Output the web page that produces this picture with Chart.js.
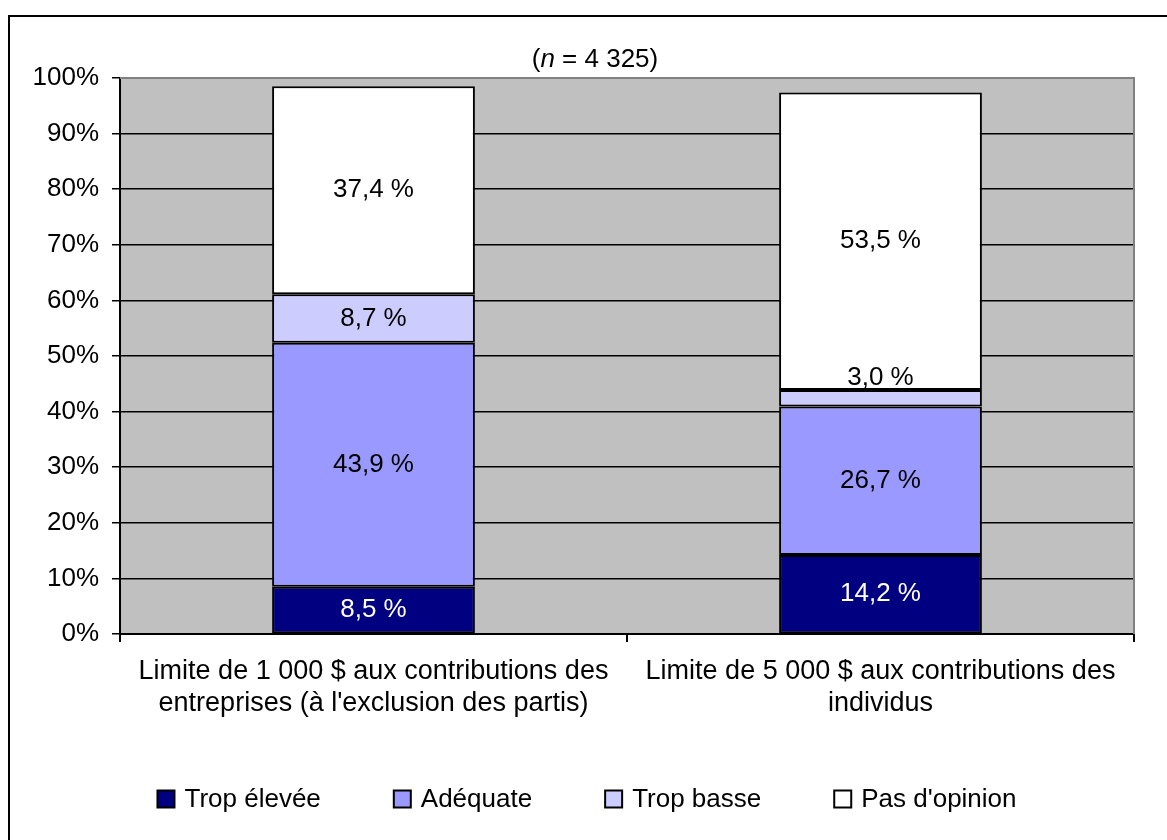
<!DOCTYPE html>
<html>
<head>
<meta charset="utf-8">
<script src="https://cdn.jsdelivr.net/npm/chart.js@4/dist/chart.umd.min.js"></script>
<style>
  body { margin: 0; background: #fff; }
  #wrap { width: 1167px; height: 840px; }
</style>
</head>
<body>
<div id="wrap"><canvas id="Chart" width="1167" height="840"></canvas></div>
<script>
const categories = [
  ["Limite de 1 000 $ aux contributions des", "entreprises (à l'exclusion des partis)"],
  ["Limite de 5 000 $ aux contributions des", "individus"]
];
const seriesNames = ["Trop élevée", "Adéquate", "Trop basse", "Pas d'opinion"];
const tropElevee = [8.5, 14.2];
const adequate = [43.9, 26.7];
const tropBasse = [8.7, 3.0];
const pasOpinion = [37.4, 53.5];
const colors = ["#000080", "#9999FF", "#CCCCFF", "#FFFFFF"];

const FONT = "'Liberation Sans', Arial, sans-serif";

// gray plot area + outer frame
const backdrop = {
  id: "backdrop",
  beforeDraw(chart) {
    const { ctx, chartArea: a } = chart;
    ctx.save();
    ctx.fillStyle = "#C0C0C0";
    ctx.fillRect(a.left, a.top, a.right - a.left, a.bottom - a.top);
    ctx.strokeStyle = "#000";
    ctx.lineWidth = 2;
    ctx.strokeRect(9, 16, 1200, 900);
    ctx.restore();
  },
  afterDraw(chart) {
    const { ctx, chartArea: a } = chart;
    ctx.save();
    ctx.strokeStyle = "#808080";
    ctx.lineWidth = 2;
    ctx.beginPath();
    ctx.moveTo(a.left, a.top);
    ctx.lineTo(a.right, a.top);
    ctx.lineTo(a.right, a.bottom);
    ctx.stroke();
    ctx.restore();
  }
};

// value labels on the segments
const segLabels = {
  id: "segLabels",
  afterDatasetsDraw(chart) {
    const { ctx } = chart;
    ctx.save();
    ctx.font = "26px " + FONT;
    ctx.textAlign = "center";
    ctx.textBaseline = "middle";
    chart.data.datasets.forEach((ds, di) => {
      const meta = chart.getDatasetMeta(di);
      meta.data.forEach((bar, i) => {
        const h = Math.abs(bar.base - bar.y);
        let y = (bar.y + bar.base) / 2;
        if (h < 20) y = bar.y - 12;
        ctx.fillStyle = di === 0 ? "#fff" : "#000";
        ctx.fillText(ds.data[i].toFixed(1).replace(".", ",") + " %", bar.x, y);
      });
    });
    ctx.restore();
  }
};

// title with italic n
const nTitle = {
  id: "nTitle",
  afterDraw(chart) {
    const { ctx } = chart;
    ctx.save();
    ctx.fillStyle = "#000";
    ctx.textBaseline = "alphabetic";
    const parts = [["(", "26px "], ["n", "italic 26px "], [" = 4 325)", "26px "]];
    let total = 0;
    parts.forEach(p => { ctx.font = p[1] + FONT; total += ctx.measureText(p[0]).width; });
    let x = 595 - total / 2;
    parts.forEach(p => {
      ctx.font = p[1] + FONT;
      ctx.fillText(p[0], x, 67);
      x += ctx.measureText(p[0]).width;
    });
    ctx.restore();
  }
};

// legend row
const legendRow = {
  id: "legendRow",
  afterDraw(chart) {
    const { ctx } = chart;
    ctx.save();
    ctx.font = "26px " + FONT;
    const box = 17, gapText = 10, gapItem = 73;
    const widths = seriesNames.map(n => box + gapText + ctx.measureText(n).width);
    const total = widths.reduce((s, w) => s + w, 0) + gapItem * (widths.length - 1);
    let x = 587 - total / 2;
    const cy = 799;
    seriesNames.forEach((n, i) => {
      ctx.fillStyle = colors[i];
      ctx.fillRect(x, cy - box / 2, box, box);
      ctx.strokeStyle = "#000";
      ctx.lineWidth = 2;
      ctx.strokeRect(x, cy - box / 2, box, box);
      ctx.fillStyle = "#000";
      ctx.textBaseline = "middle";
      ctx.textAlign = "left";
      ctx.fillText(n, x + box + gapText, cy + 1);
      x += widths[i] + gapItem;
    });
    ctx.restore();
  }
};

const series = [tropElevee, adequate, tropBasse, pasOpinion];
const ctx = document.getElementById("Chart").getContext("2d");
const myChart = new Chart(ctx, {
  type: "bar",
  data: {
    labels: categories,
    datasets: series.map((d, i) => ({
      label: seriesNames[i],
      data: d,
      backgroundColor: colors[i],
      borderColor: "#000",
      borderWidth: 2,
      borderSkipped: false,
      barPercentage: 0.4,
      categoryPercentage: 1
    }))
  },
  options: {
    responsive: false,
    animation: false,
    layout: { padding: { left: 8, right: 33, top: 78, bottom: 106 } },
    plugins: {
      legend: { display: false },
      tooltip: { enabled: false },
      title: { display: false }
    },
    scales: {
      x: {
        stacked: true,
        grid: {
          offset: true,
          drawOnChartArea: false,
          color: "#000",
          lineWidth: 2,
          tickLength: 8
        },
        border: { color: "#000", width: 2 },
        ticks: {
          color: "#000",
          font: { family: FONT, size: 27, lineHeight: 1.185 },
          padding: 14,
          maxRotation: 0,
          autoSkip: false
        },
        afterFit(scale) { scale.height = 100; }
      },
      y: {
        stacked: true,
        min: 0,
        max: 100,
        grid: {
          color: (c) => (c.tick && c.tick.value === 100 ? "rgba(0,0,0,0)" : "#000"),
          tickColor: "#000",
          lineWidth: 1.5,
          tickLength: 8
        },
        border: { color: "#000", width: 2 },
        ticks: {
          stepSize: 10,
          color: "#000",
          padding: 13,
          font: { family: FONT, size: 26 },
          callback: (v) => v + "%"
        },
        afterFit(scale) { scale.width = 112; }
      }
    }
  },
  plugins: [backdrop, segLabels, nTitle, legendRow]
});
</script>
</body>
</html>
